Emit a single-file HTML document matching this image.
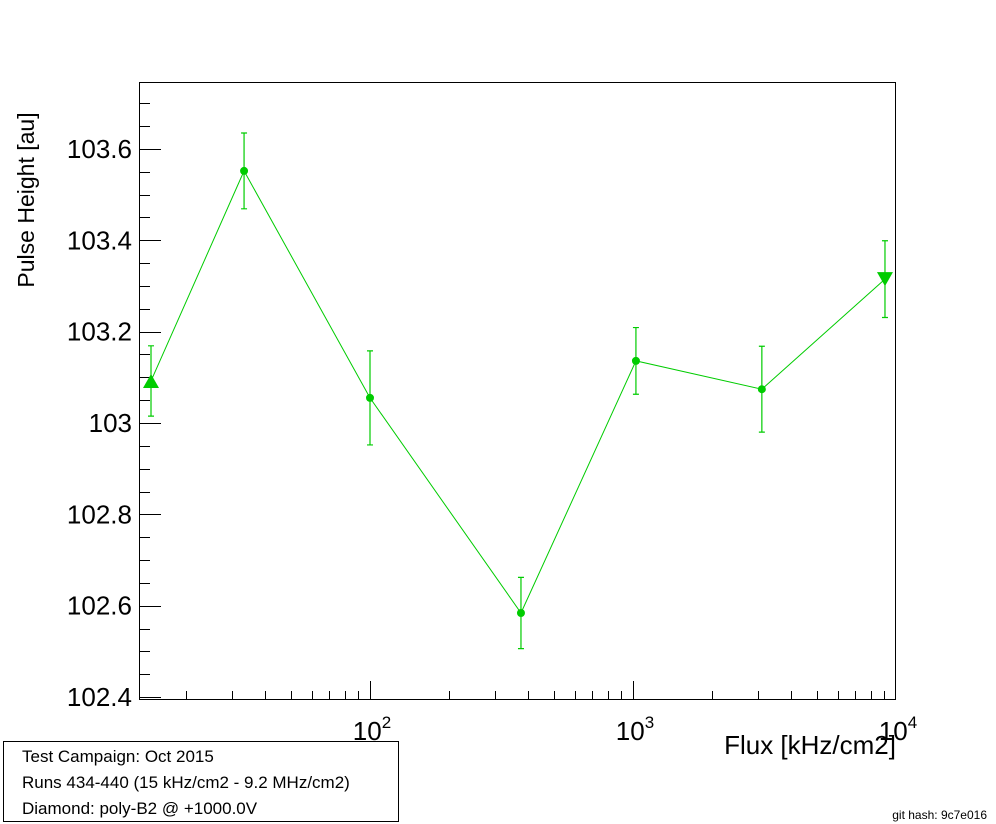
<!DOCTYPE html>
<html><head><meta charset="utf-8"><style>
body{margin:0;background:#fff;}
svg{display:block;font-family:"Liberation Sans",Arial,sans-serif;}
</style></head><body>
<svg width="996" height="824" viewBox="0 0 996 824">
<rect x="0" y="0" width="996" height="824" fill="#fff"/>
<g id="ax"></g>
<g id="series"></g>
<text x="34" y="200" font-size="23" text-anchor="middle" transform="rotate(-90 34 200)">Pulse Height [au]</text>
<text x="896" y="754" font-size="26" text-anchor="end">Flux [kHz/cm2]</text>
<g>
<rect x="3.5" y="741.5" width="395" height="80" fill="#fff" stroke="#000" stroke-width="1"/>
<text x="22" y="762" font-size="17">Test Campaign: Oct 2015</text>
<text x="22" y="788" font-size="17">Runs 434-440 (15 kHz/cm2 - 9.2 MHz/cm2)</text>
<text x="22" y="814" font-size="17">Diamond: poly-B2 @ +1000.0V</text>
</g>
<text x="987" y="819" font-size="12" text-anchor="end">git hash: 9c7e016</text>
</svg>
<script>
const fluxes=[14.7,33.2,100,375,1026,3090,9080];
const values=[103.092,103.552,103.055,102.584,103.136,103.074,103.315];
const errors=[0.077,0.083,0.103,0.078,0.073,0.094,0.084];
const yTicks=[102.4,102.6,102.8,103,103.2,103.4,103.6];
const yTickLabels=["102.4","102.6","102.8","103","103.2","103.4","103.6"];
const xDecades=[2,3,4];

const L=139,R=896,T=82,B=700;
const X=f=>370+(Math.log10(f)-2)*263;
const Y=v=>423-(v-103)*456.7;
const NS="http://www.w3.org/2000/svg";
function mk(p,tag,a){const e=document.createElementNS(NS,tag);for(const k in a)e.setAttribute(k,a[k]);p.appendChild(e);return e;}
const ax=document.getElementById('ax');
const fr=mk(ax,'rect',{x:L+.5,y:T+.5,width:R-L-1,height:B-T-1,fill:'none',stroke:'#000','stroke-width':1});


for(let v=102.4;v<=103.75;v+=0.05){const y=Math.round(Y(v))+.5;if(y<T||y>B)continue;
 const isMaj=yTicks.some(t=>Math.abs(t-v)<1e-6);
 const l=mk(ax,'line',{x1:L,x2:L+(isMaj?22:11),y1:y,y2:y,stroke:'#000'});
 
 }
yTicks.forEach((v,i)=>{const t=mk(ax,'text',{x:L-7,y:Y(v)+9,'font-size':26,'text-anchor':'end'});t.textContent=yTickLabels[i];
 
 });
for(let d=1;d<4;d++)for(let m=1;m<10;m++){const f=m*Math.pow(10,d);const x=Math.round(X(f))+.5;if(x<=L||x>R)continue;
 const l=mk(ax,'line',{x1:x,x2:x,y1:B,y2:B-(m==1?19:9),stroke:'#000'});
 
 }
{const x=X(10000);const l=mk(ax,'line',{x1:x-.5,x2:x-.5,y1:B,y2:B-19,stroke:'#000'});
 
 }
xDecades.forEach(d=>{const x=X(Math.pow(10,d));const t=mk(ax,'text',{x:x+2,y:740,'font-size':26,'text-anchor':'middle'});
 t.textContent='10';const s=mk(t,'tspan',{dy:-12,'font-size':17});s.textContent=String(d);
 
 });
const g=document.getElementById('series');const c='#00cc00';
const pts=fluxes.map((f,i)=>X(f)+','+Y(values[i])).join(' ');
const pl=mk(g,'polyline',{points:pts,fill:'none',stroke:c,'stroke-width':1});


fluxes.forEach((f,i)=>{const x=X(f),y=Y(values[i]),y1=Y(values[i]+errors[i]),y2=Y(values[i]-errors[i]);
 const e=mk(g,'path',{d:`M${x},${y1}V${y2}M${x-3},${y1}H${x+3}M${x-3},${y2}H${x+3}`,stroke:c,'stroke-width':1.2,fill:'none'});
 
 
 let m;
 if(i==0)m=mk(g,'polygon',{points:`${x-8},${y+7} ${x+8},${y+7} ${x},${y-7}`,fill:c});
 else if(i==fluxes.length-1)m=mk(g,'polygon',{points:`${x-8},${y-7} ${x+8},${y-7} ${x},${y+7}`,fill:c});
 else m=mk(g,'circle',{cx:x,cy:y,r:4,fill:c});
 
 });
</script>
</body></html>
